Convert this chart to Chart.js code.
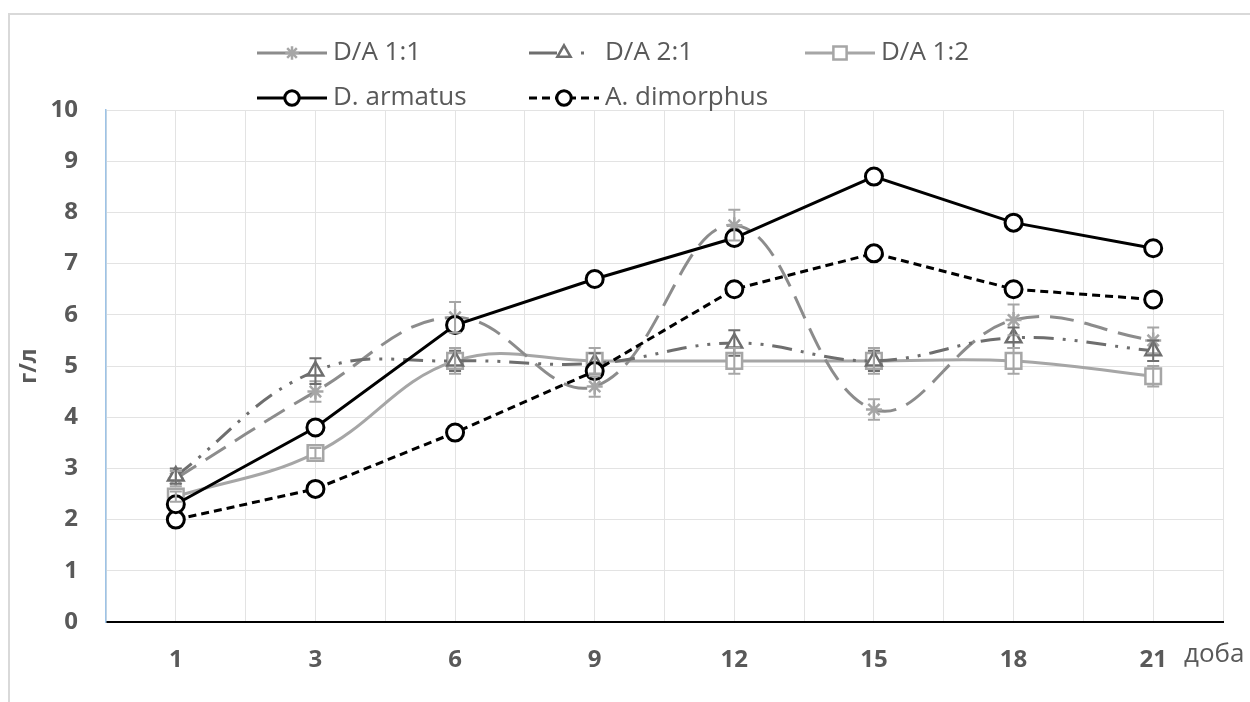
<!DOCTYPE html>
<html>
<head>
<meta charset="utf-8">
<script src="https://cdn.jsdelivr.net/npm/chart.js@4"></script>
<style>
  html, body { margin: 0; padding: 0; background: #fff; }
  #wrap { width: 1250px; height: 702px; }
</style>
</head>
<body>
<div id="wrap"><canvas id="grafico" width="1250" height="702"></canvas></div>
<script>
// days on the x axis
const days = ['1', '3', '6', '9', '12', '15', '18', '21'];

// mixed cultures (with error bars)
const da11 = [2.8, 4.5, 5.95, 4.6, 7.75, 4.15, 5.9, 5.5];
const err11 = [0.15, 0.2, 0.3, 0.2, 0.3, 0.2, 0.3, 0.25];
const da21 = [2.85, 4.9, 5.1, 5.05, 5.45, 5.1, 5.55, 5.3];
const err21 = [0.15, 0.25, 0.2, 0.2, 0.25, 0.2, 0.2, 0.2];
const da12 = [2.45, 3.3, 5.1, 5.1, 5.1, 5.1, 5.1, 4.8];
const err12 = [0.1, 0.1, 0.25, 0.25, 0.25, 0.25, 0.25, 0.2];

// monocultures
const armatus = [2.3, 3.8, 5.8, 6.7, 7.5, 8.7, 7.8, 7.3];
const dimorphus = [2.0, 2.6, 3.7, 4.9, 6.5, 7.2, 6.5, 6.3];

const yTicks = [0, 1, 2, 3, 4, 5, 6, 7, 8, 9, 10];

const textColor = '#595959';
const toPoints = arr => arr.map((v, i) => ({ x: i, y: v }));

const datasets = [
  { label: 'D/A 1:1', data: toPoints(da11), errors: err11, order: 3,
    borderColor: '#8c8c8c', borderWidth: 3, borderDash: [24, 11], tension: 0.4,
    pointStyle: 'star', pointRadius: 8, pointBorderColor: '#a6a6a6', pointBackgroundColor: '#a6a6a6', pointBorderWidth: 2.5,
    legendX: 257, legendY: 53, legendDash: [] },
  { label: 'D/A 2:1', data: toPoints(da21), errors: err21, order: 2,
    borderColor: '#6e6e6e', borderWidth: 3, borderDash: [20, 9, 3, 9, 3, 9], tension: 0.4,
    pointStyle: 'triangle', pointRadius: 9, pointBorderColor: '#6e6e6e', pointBackgroundColor: '#fff', pointBorderWidth: 2.5,
    legendX: 529, legendY: 53, legendDash: [28, 24, 3, 50] },
  { label: 'D/A 1:2', data: toPoints(da12), errors: err12, order: 4,
    borderColor: '#a6a6a6', borderWidth: 3, borderDash: [], tension: 0.4,
    pointStyle: 'rect', pointRadius: 11, pointBorderColor: '#a6a6a6', pointBackgroundColor: '#fff', pointBorderWidth: 2.5,
    legendX: 805, legendY: 53, legendDash: [] },
  { label: 'D. armatus', data: toPoints(armatus), order: 0,
    borderColor: '#000', borderWidth: 3, borderDash: [], tension: 0,
    pointStyle: 'circle', pointRadius: 8.5, pointBorderColor: '#000', pointBackgroundColor: '#fff', pointBorderWidth: 3,
    legendX: 257, legendY: 98, legendDash: [] },
  { label: 'A. dimorphus', data: toPoints(dimorphus), order: 1,
    borderColor: '#000', borderWidth: 3, borderDash: [8, 5], tension: 0,
    pointStyle: 'circle', pointRadius: 8.5, pointBorderColor: '#000', pointBackgroundColor: '#fff', pointBorderWidth: 3,
    legendX: 529, legendY: 98, legendDash: [8, 5] }
];

// white background and outer frame
const fundo = {
  id: 'fundo',
  beforeDraw(chart) {
    const ctx = chart.ctx;
    ctx.save();
    ctx.fillStyle = '#fff';
    ctx.fillRect(0, 0, chart.width, chart.height);
    ctx.strokeStyle = '#d9d9d9';
    ctx.lineWidth = 2;
    ctx.strokeRect(9, 14, 1400, 900);
    ctx.restore();
  }
};

// vertical error bars with caps
const barrasErro = {
  id: 'barrasErro',
  afterDatasetsDraw(chart) {
    const ctx = chart.ctx;
    const xs = chart.scales.x, ys = chart.scales.y;
    chart.data.datasets.forEach(ds => {
      if (!ds.errors) return;
      ctx.save();
      ctx.strokeStyle = ds.pointBorderColor;
      ctx.lineWidth = 2;
      ctx.setLineDash([]);
      ds.data.forEach((p, i) => {
        const x = xs.getPixelForValue(p.x);
        const y1 = ys.getPixelForValue(p.y - ds.errors[i]);
        const y2 = ys.getPixelForValue(p.y + ds.errors[i]);
        ctx.beginPath();
        ctx.moveTo(x, y1); ctx.lineTo(x, y2);
        ctx.moveTo(x - 6, y1); ctx.lineTo(x + 6, y1);
        ctx.moveTo(x - 6, y2); ctx.lineTo(x + 6, y2);
        ctx.stroke();
      });
      ctx.restore();
    });
  }
};

// legend in two rows like the original + the "доба" label
const legenda = {
  id: 'legenda',
  afterDraw(chart) {
    const ctx = chart.ctx;
    ctx.save();
    chart.data.datasets.forEach(ds => {
      const x0 = ds.legendX, y = ds.legendY;
      ctx.strokeStyle = ds.borderColor;
      ctx.lineWidth = 3;
      ctx.setLineDash(ds.legendDash);
      ctx.beginPath();
      ctx.moveTo(x0, y); ctx.lineTo(x0 + 70, y);
      ctx.stroke();
      ctx.setLineDash([]);
      ctx.strokeStyle = ds.pointBorderColor;
      ctx.fillStyle = ds.pointBackgroundColor;
      ctx.lineWidth = ds.pointBorderWidth;
      Chart.helpers.drawPoint(ctx, {
        pointStyle: ds.pointStyle, radius: ds.pointRadius * 0.85, rotation: 0, borderWidth: ds.pointBorderWidth
      }, x0 + 35, y);
      ctx.fillStyle = textColor;
      ctx.font = '26px "Open Sans"';
      ctx.textBaseline = 'middle';
      ctx.textAlign = 'left';
      ctx.fillText(ds.label, x0 + 76, y);
    });
    ctx.font = '26px "Open Sans"';
    ctx.fillStyle = textColor;
    ctx.textBaseline = 'middle';
    ctx.fillText('доба', 1184, 655);
    ctx.restore();
  }
};

const ctx = document.getElementById('grafico').getContext('2d');
new Chart(ctx, {
  type: 'line',
  data: { datasets: datasets },
  plugins: [fundo, barrasErro, legenda],
  options: {
    responsive: false,
    animation: false,
    layout: { padding: { left: 12, right: 27, top: 110, bottom: 0 } },
    plugins: { legend: { display: false }, tooltip: { enabled: false } },
    scales: {
      x: {
        type: 'linear',
        min: -0.5,
        max: 7.5,
        afterFit: s => { s.height = 80; },
        afterBuildTicks: s => {
          const t = [];
          for (let v = -1; v <= 15; v++) t.push({ value: v / 2 });
          s.ticks = t;
        },
        ticks: {
          autoSkip: false,
          maxRotation: 0,
          padding: 24,
          color: textColor,
          font: { family: 'Open Sans', size: 24, weight: 'bold' },
          callback: v => Number.isInteger(v) ? days[v] : ''
        },
        grid: { color: '#e3e3e3', lineWidth: 1, drawTicks: false },
        border: { color: '#000', width: 2 }
      },
      y: {
        min: 0,
        max: 10,
        afterFit: s => { s.width = 94; },
        afterBuildTicks: s => { s.ticks = yTicks.map(v => ({ value: v })); },
        ticks: {
          padding: 28,
          color: textColor,
          font: { family: 'Open Sans', size: 24, weight: 'bold' }
        },
        title: {
          display: true,
          text: 'г/л',
          color: textColor,
          font: { family: 'Open Sans', size: 23, weight: 'bold' },
          padding: { top: 4, bottom: 0 }
        },
        grid: { color: '#e3e3e3', lineWidth: 1, drawTicks: false },
        border: { color: '#9dc3e6', width: 1.5 }
      }
    }
  }
});
</script>
</body>
</html>
